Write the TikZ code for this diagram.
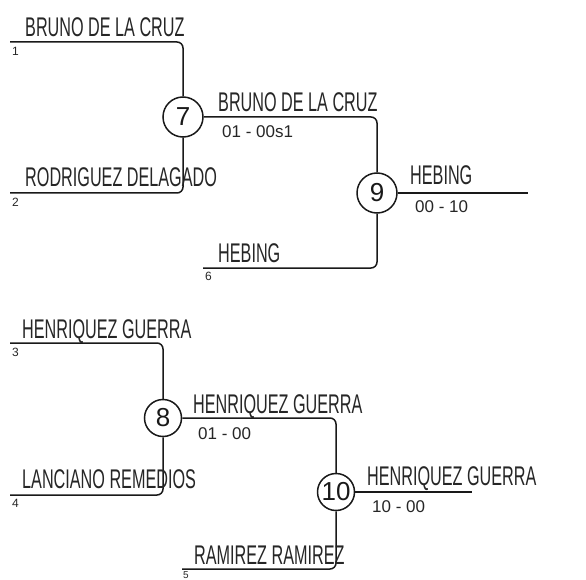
\documentclass[tikz,border=0pt]{standalone}
\usepackage{fontspec}
\setmainfont{Liberation Sans}
\newfontfamily\namefont[FakeStretch=0.6]{Liberation Sans}
\begin{document}
\begin{tikzpicture}[x=1pt,y=-1pt,
  bline/.style={line width=1.5pt, rounded corners=6pt, black!90},
  namelbl/.style={anchor=base west, inner sep=0pt, font=\namefont\fontsize{27}{27}\selectfont, text=black!85},
  scorelbl/.style={anchor=north west, inner sep=0pt, font=\fontsize{17}{17}\selectfont, text=black!85},
  seedlbl/.style={anchor=north west, inner sep=0pt, font=\fontsize{12}{12}\selectfont, text=black!85},
  matchc/.style={circle, draw, line width=1.5pt, inner sep=0pt, font=\fontsize{26}{26}\selectfont, black!90}]
\useasboundingbox (0,0) rectangle (586,580);
% top bracket
\node[matchc, minimum size=40pt] (m7) at (183,117) {7};
\node[matchc, minimum size=40pt] (m9) at (377,193) {9};
\coordinate (p1) at (10,42);
\coordinate (p2) at (10,193);
\coordinate (p6) at (203,268);
\coordinate (f9) at (528,193);
\draw[bline] (p1) -| (m7.north);
\draw[bline] (p2) -| (m7.south);
\draw[bline] (m7.east) -| (m9.north);
\draw[bline] (p6) -| (m9.south);
\draw[bline] (m9.east) -- (f9);
\node[namelbl] (n1) at (25,37) {BRUNO DE LA CRUZ};
\node[seedlbl] (s1) at (12,47) {1};
\node[namelbl] (n2) at (25,187) {RODRIGUEZ DELAGADO};
\node[seedlbl] (s2) at (12,198) {2};
\node[namelbl] (n7) at (218,112) {BRUNO DE LA CRUZ};
\node[scorelbl] (sc7) at (222,125) {01 - 00s1};
\node[namelbl] (n6) at (218,262) {HEBING};
\node[seedlbl] (s6) at (205,272) {6};
\node[namelbl] (n9) at (410,185) {HEBING};
\node[scorelbl] (sc9) at (415,200) {00 - 10};
% bottom bracket
\node[matchc, minimum size=37pt] (m8) at (163,418) {8};
\node[matchc, minimum size=37pt] (m10) at (336,492) {10};
\coordinate (p3) at (10,343);
\coordinate (p4) at (10,495);
\coordinate (p5) at (182,569);
\coordinate (f10) at (472,492);
\draw[bline] (p3) -| (m8.north);
\draw[bline] (p4) -| (m8.south);
\draw[bline] (m8.east) -| (m10.north);
\draw[bline] (p5) -| (m10.south);
\draw[bline] (m10.east) -- (f10);
\node[namelbl] (n3) at (22,338) {HENRIQUEZ GUERRA};
\node[seedlbl] (s3) at (12,348) {3};
\node[namelbl] (n4) at (22,488) {LANCIANO REMEDIOS};
\node[seedlbl] (s4) at (12,499) {4};
\node[namelbl] (n8) at (193,413) {HENRIQUEZ GUERRA};
\node[scorelbl] (sc8) at (198,427) {01 - 00};
\node[namelbl] (n5) at (194,564) {RAMIREZ RAMIREZ};
\node[seedlbl, font=\fontsize{10}{10}\selectfont] (s5) at (183,571) {5};
\node[namelbl] (n10) at (367,485) {HENRIQUEZ GUERRA};
\node[scorelbl] (sc10) at (372,500) {10 - 00};
\end{tikzpicture}
\end{document}
